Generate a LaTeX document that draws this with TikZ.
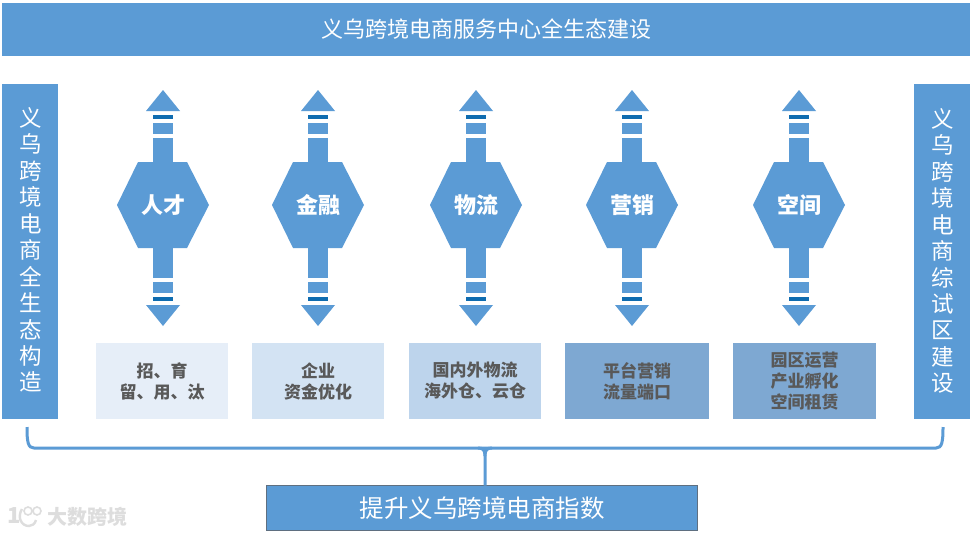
\documentclass[tikz,border=0pt]{standalone}
\usepackage{fontspec}
\setmainfont{Noto Sans CJK SC}
\usetikzlibrary{calc}
\definecolor{mainblue}{HTML}{5B9BD5}
\definecolor{darkbar}{HTML}{0F6CB0}
\definecolor{boxa}{HTML}{E6EEF8}
\definecolor{boxb}{HTML}{D3E3F3}
\definecolor{boxc}{HTML}{BDD4EC}
\definecolor{boxd}{HTML}{7EA8D2}
\definecolor{boxtext}{HTML}{595959}
\definecolor{edgegrey}{HTML}{5F6F80}
\definecolor{markgrey}{HTML}{DDDDDD}
\tikzset{
  x=1pt,y=-1pt,
  band/.style={fill=mainblue,draw=none,inner sep=0pt,outer sep=0pt,text=white,align=center,anchor=north west},
  sidetext/.style={text=white,align=center,font=\fontsize{22.5}{26.45}\selectfont,inner sep=0pt},
  hexlabel/.style={text=white,font=\fontsize{22}{22}\selectfont\bfseries,inner sep=0pt},
  infobox/.style={inner sep=0pt,outer sep=0pt,text=boxtext,align=center,anchor=north west,font=\fontsize{17}{21}\selectfont\bfseries},
  bracket/.style={draw=mainblue,line width=3pt},
  markfont/.style={text=markgrey,inner sep=0pt,font=\fontsize{20}{20}\selectfont\bfseries}
}
% name, centre x, label
\newcommand{\pillar}[3]{%
  \fill[mainblue] (#2-46,205) -- (#2-25,162) -- (#2+24,162) -- (#2+46,205) -- (#2+24,248) -- (#2-25,248) -- cycle;
  \fill[mainblue] (#2-10,138) rectangle (#2+10,163);
  \fill[mainblue] (#2-10,123) rectangle (#2+10,134);
  \fill[darkbar] (#2-10,115) rectangle (#2+10,119);
  \fill[mainblue] (#2-17,111) -- (#2,90) -- (#2+17,111) -- cycle;
  \fill[mainblue] (#2-10,247) rectangle (#2+10,278);
  \fill[mainblue] (#2-10,282) rectangle (#2+10,293);
  \fill[darkbar] (#2-10,297) rectangle (#2+10,301);
  \fill[mainblue] (#2-17,305) -- (#2,326) -- (#2+17,305) -- cycle;
  \node[hexlabel] (#1) at (#2,205) {#3};
}
\newcommand{\infoblock}[5]{% name,x1,x2,fill,text
  \node[infobox,fill=#4,minimum width=#3pt-#2pt,minimum height=76pt] (#1) at (#2,343) {#5};
}
\begin{document}
\begin{tikzpicture}
\useasboundingbox (0,0) rectangle (972,535);
\fill[white] (0,0) rectangle (972,535);
\node[band,minimum width=968pt,minimum height=53pt,font=\fontsize{22}{22}\selectfont] (title) at (2,3) {义乌跨境电商服务中心全生态建设};
\node[band,minimum width=56pt,minimum height=335pt] (leftbar) at (2,84) {};
\node[sidetext] (lefttext) at (31,250) {义\\乌\\跨\\境\\电\\商\\全\\生\\态\\构\\造};
\node[band,minimum width=56pt,minimum height=335pt] (rightbar) at (914,84) {};
\node[sidetext] (righttext) at (943,251) {义\\乌\\跨\\境\\电\\商\\综\\试\\区\\建\\设};
\pillar{rencai}{163}{人才}
\pillar{jinrong}{318}{金融}
\pillar{wuliu}{476}{物流}
\pillar{yingxiao}{632}{营销}
\pillar{kongjian}{799}{空间}
\infoblock{boxone}{96}{228}{boxa}{招、育\\留、用、汰}
\infoblock{boxtwo}{252}{384}{boxb}{企业\\资金优化}
\infoblock{boxthree}{409}{541}{boxc}{国内外物流\\海外仓、云仓}
\infoblock{boxfour}{565}{709}{boxd}{平台营销\\流量端口}
\infoblock{boxfive}{733}{876}{boxd}{园区运营\\产业孵化\\空间租赁}
\node[band,draw=edgegrey,line width=0.8pt,minimum width=431pt,minimum height=45pt,font=\fontsize{24.5}{24.5}\selectfont] (goal) at (266.5,485.5) {提升义乌跨境电商指数};
\coordinate (bl) at (27,427);
\coordinate (br) at (943,427);
\draw[bracket] (bl) .. controls (27,442) and (28,448) .. (34,448) -- (936,448) .. controls (942,448) and (943,442) .. (br);
\draw[bracket] (478,448) .. controls (483,448) and (485,450) .. (485,456) -- (goal.north -| 485,0);
\draw[bracket] (492,448) .. controls (487,448) and (485,450) .. (485,456);
% watermark
\node[markfont] (markone) at (14,516) {\fontsize{22}{22}\selectfont 1};
\draw[markgrey,line width=1.6pt] (28,511) circle (4) (37,511) circle (4);
\draw[markgrey,line width=2.4pt] (22,509) .. controls (17,517) and (21,526) .. (29,526) .. controls (32,526) and (35,524) .. (36,520);
\node[markfont,anchor=west] (marktext) at (47,517) {大数跨境};
\end{tikzpicture}
\end{document}
